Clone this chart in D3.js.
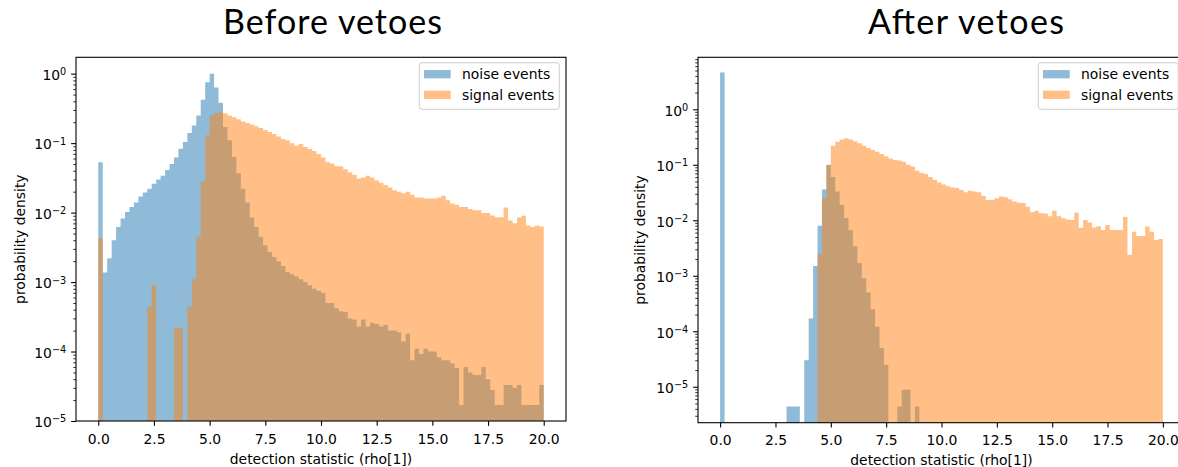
<!DOCTYPE html>
<html>
<head>
<meta charset="utf-8">
<script src="https://cdn.jsdelivr.net/npm/d3@7"></script>
<style>
  html, body { margin: 0; padding: 0; background: #ffffff; }
  svg { display: block; }
</style>
</head>
<body>
<svg id="chart" width="1178" height="467"></svg>
<script>
// ---- Histogram data: 100 bins of width 0.2 on the detection statistic (rho[1]) ----
const binEdges = d3.range(0, 101).map(i => +(i * 0.2).toFixed(1));

// Probability density per bin (0 = empty bin)
const beforeNoise = [
  0.053, 0.00137, 0.0022, 0.004, 0.0062, 0.0082, 0.0102, 0.012, 0.014, 0.017,
  0.0195, 0.022, 0.026, 0.03, 0.034, 0.041, 0.05, 0.062, 0.083, 0.104,
  0.14, 0.18, 0.25, 0.42, 0.75, 1.0, 0.63, 0.38, 0.17, 0.11,
  0.063, 0.037, 0.022, 0.014, 0.0085, 0.0062, 0.0045, 0.0034, 0.0027, 0.0023,
  0.002, 0.0017, 0.0014, 0.0013, 0.0012, 0.0011, 0.001, 0.0009, 0.0008, 0.00075,
  0.0007, 0.0005, 0.0005, 0.00042, 0.00038, 0.00037, 0.0003, 0.00029, 0.00023, 0.00029,
  0.00023, 0.00026, 0.00025, 0.00023, 0.00024, 0.0002, 0.0002, 0.00019, 0.00014, 0.00018,
  0.000075, 0.00011, 0.000092, 0.00011, 0.0001, 0.0001, 0.000083, 0.000075, 0.000075, 0.000067,
  0.000058, 0.000017, 0.00006, 0.00005, 0.000046, 0.000046, 0.00006, 0.00004, 0.000028, 0.000017,
  0.000017, 0.000033, 0.000033, 0.00003, 0.000033, 0.000017, 0.000017, 0.000017, 0.000017, 0.000033
];
const beforeSignal = [
  0.0043, 0, 0, 0, 0, 0, 0, 0, 0, 0,
  0, 0.00044, 0.0009, 0, 0, 0, 0, 0.00022, 0.00022, 0,
  0.00044, 0.0011, 0.0045, 0.028, 0.13, 0.25, 0.27, 0.285, 0.27, 0.25,
  0.235, 0.22, 0.205, 0.195, 0.185, 0.175, 0.165, 0.155, 0.145, 0.135,
  0.125, 0.115, 0.11, 0.1, 0.092, 0.097, 0.088, 0.082, 0.077, 0.07,
  0.062, 0.053, 0.051, 0.047, 0.046, 0.042, 0.038, 0.035, 0.031, 0.032,
  0.034, 0.032, 0.029, 0.027, 0.025, 0.023, 0.021, 0.02, 0.019, 0.02,
  0.018, 0.0165, 0.0165, 0.016, 0.016, 0.016, 0.0165, 0.0175, 0.015, 0.0135,
  0.013, 0.012, 0.012, 0.0113, 0.0108, 0.0108, 0.0099, 0.0099, 0.0091, 0.0086,
  0.0086, 0.0118, 0.0077, 0.007, 0.0085, 0.009, 0.0065, 0.0062, 0.0065, 0.0063
];
const afterNoise = [
  4.6, 0, 0, 0, 0, 0, 0, 0, 0, 0,
  0, 0, 0, 0, 0, 0.0000044, 0.0000044, 0.0000044, 0, 0.00003,
  0.00017, 0.0015, 0.008, 0.036, 0.1, 0.06, 0.033, 0.019, 0.011, 0.0066,
  0.0034, 0.0017, 0.0009, 0.0005, 0.00025, 0.00012, 0.00005, 0.000025, 0, 0,
  0.0000044, 0.0000088, 0.0000088, 0, 0.0000044, 0, 0, 0, 0, 0,
  0, 0, 0, 0, 0, 0, 0, 0, 0, 0,
  0, 0, 0, 0, 0, 0, 0, 0, 0, 0,
  0, 0, 0, 0, 0, 0, 0, 0, 0, 0,
  0, 0, 0, 0, 0, 0, 0, 0, 0, 0,
  0, 0, 0, 0, 0, 0, 0, 0, 0, 0
];
const afterSignal = [
  0, 0, 0, 0, 0, 0, 0, 0, 0, 0,
  0, 0, 0, 0, 0, 0, 0, 0, 0, 0,
  0, 0, 0.0025, 0.025, 0.098, 0.22, 0.26, 0.287, 0.3, 0.285,
  0.265, 0.245, 0.22, 0.2, 0.185, 0.172, 0.157, 0.142, 0.13, 0.122,
  0.12, 0.114, 0.1, 0.093, 0.078, 0.072, 0.068, 0.06, 0.054, 0.048,
  0.044, 0.041, 0.039, 0.038, 0.035, 0.032, 0.034, 0.033, 0.032, 0.0274,
  0.0232, 0.0235, 0.025, 0.0267, 0.026, 0.0239, 0.0217, 0.0208, 0.0205, 0.0176,
  0.014, 0.0149, 0.0134, 0.0132, 0.0118, 0.0149, 0.0118, 0.0109, 0.0103, 0.0101,
  0.0137, 0.0073, 0.0101, 0.0091, 0.0074, 0.0078, 0.0067, 0.0082, 0.0067, 0.0067,
  0.0067, 0.0115, 0.0024, 0.0062, 0.0052, 0.0052, 0.0077, 0.0062, 0.0044, 0.0046
];

const seriesNames = ["noise events", "signal events"];
const seriesColors = ["#1f77b4", "#ff7f0e"];
const panelTitles = ["Before vetoes", "After vetoes"];
const xTicks = [0, 2.5, 5, 7.5, 10, 12.5, 15, 17.5, 20];
const xLabel = "detection statistic (rho[1])";
const yLabel = "probability density";

// ---- Layout ----
const FONT = '"DejaVu Sans", "Liberation Sans", sans-serif';
const FS = 13.9;          // 10 pt at 100 dpi
const TICK = 4.86;        // 3.5 pt
const MINOR = 2.78;       // 2 pt
const LW = 1.1;           // 0.8 pt

const panels = [
  { title: panelTitles[0], titleWidth: 219, series: [beforeNoise, beforeSignal],
    yDomain: [1e-5, 1.72], left: 76, right: 566, top: 57.3, bottom: 421,
    titleX: 332.5, yLabelX: 25, xLabelY: 463.5 },
  { title: panelTitles[1], titleWidth: 196, series: [afterNoise, afterSignal],
    yDomain: [2.25e-6, 8.65], left: 698, right: 1185, top: 57.3, bottom: 422.7,
    titleX: 966, yLabelX: 645, xLabelY: 465 }
];

const svg = d3.select("#chart");

// Step-outline path of one histogram, split into runs of non-empty bins
function histPath(values, x, y, base) {
  const p = d3.path();
  let i = 0;
  while (i < values.length) {
    if (!(values[i] > 0)) { i++; continue; }
    const start = i;
    p.moveTo(x(binEdges[start]), base);
    while (i < values.length && values[i] > 0) {
      p.lineTo(x(binEdges[i]), y(values[i]));
      p.lineTo(x(binEdges[i + 1]), y(values[i]));
      i++;
    }
    p.lineTo(x(binEdges[i]), base);
    p.closePath();
  }
  return p.toString();
}

function supExp(v) {
  const e = Math.round(Math.log10(v));
  return (e < 0 ? "\u2212" : "") + Math.abs(e);
}

panels.forEach((pn, k) => {
  const x = d3.scaleLinear().domain([-1, 21]).range([pn.left, pn.right]);
  const y = d3.scaleLog().domain(pn.yDomain).range([pn.bottom, pn.top]);
  const g = svg.append("g");

  // title
  svg.append("text")
    .attr("x", pn.titleX).attr("y", 33.6)
    .attr("text-anchor", "middle")
    .attr("font-family", 'Lato, "Open Sans", sans-serif')
    .attr("font-size", 34)
    .attr("textLength", pn.titleWidth)
    .attr("lengthAdjust", "spacing")
    .attr("fill", "#000")
    .text(pn.title);

  // clip to the axes box
  const clipId = "clip" + k;
  svg.append("clipPath").attr("id", clipId)
    .append("rect")
    .attr("x", pn.left).attr("y", pn.top)
    .attr("width", pn.right - pn.left).attr("height", pn.bottom - pn.top);

  const bars = g.append("g").attr("clip-path", `url(#${clipId})`);
  pn.series.forEach((vals, s) => {
    bars.append("path")
      .attr("d", histPath(vals, x, y, pn.bottom + 2))
      .attr("fill", seriesColors[s])
      .attr("fill-opacity", 0.5);
  });

  // x axis
  const xa = g.append("g")
    .attr("transform", `translate(0,${pn.bottom})`)
    .call(d3.axisBottom(x).tickValues(xTicks)
      .tickSize(TICK).tickPadding(7.9).tickSizeOuter(0)
      .tickFormat(d3.format(".1f")));
  xa.select(".domain").remove();
  xa.selectAll("line").attr("stroke", "#000").attr("stroke-width", LW);
  xa.selectAll("text").attr("font-family", FONT).attr("font-size", FS).attr("fill", "#000");

  // y axis: minor ticks
  const [lo, hi] = pn.yDomain;
  const minors = [];
  for (let e = Math.floor(Math.log10(lo)); e <= Math.ceil(Math.log10(hi)); e++) {
    for (let m = 2; m <= 9; m++) {
      const v = m * Math.pow(10, e);
      if (v >= lo && v <= hi) minors.push(v);
    }
  }
  const majors = [];
  for (let e = Math.ceil(Math.log10(lo)); e <= Math.floor(Math.log10(hi)); e++) majors.push(Math.pow(10, e));

  const ym = g.append("g").attr("transform", `translate(${pn.left},0)`)
    .call(d3.axisLeft(y).tickValues(minors).tickSize(MINOR).tickFormat(""));
  ym.select(".domain").remove();
  ym.selectAll("line").attr("stroke", "#000").attr("stroke-width", 0.8);

  const ya = g.append("g").attr("transform", `translate(${pn.left},0)`)
    .call(d3.axisLeft(y).tickValues(majors).tickSize(TICK).tickPadding(4.9).tickFormat(""));
  ya.select(".domain").remove();
  ya.selectAll("line").attr("stroke", "#000").attr("stroke-width", LW);
  ya.selectAll(".tick text")
    .attr("font-family", FONT).attr("font-size", FS).attr("fill", "#000")
    .attr("dy", "0.42em")
    .each(function (d) {
      const t = d3.select(this);
      t.append("tspan").text("10");
      t.append("tspan").attr("dy", "-0.5em").attr("font-size", "0.7em").text(supExp(d));
    });

  // spines
  g.append("rect")
    .attr("x", pn.left).attr("y", pn.top)
    .attr("width", pn.right - pn.left).attr("height", pn.bottom - pn.top)
    .attr("fill", "none").attr("stroke", "#000").attr("stroke-width", LW);

  // axis labels
  g.append("text")
    .attr("x", (pn.left + pn.right) / 2).attr("y", pn.xLabelY)
    .attr("text-anchor", "middle")
    .attr("font-family", FONT).attr("font-size", FS).attr("fill", "#000")
    .text(xLabel);
  g.append("text")
    .attr("transform", `translate(${pn.yLabelX},${(pn.top + pn.bottom) / 2}) rotate(-90)`)
    .attr("text-anchor", "middle")
    .attr("font-family", FONT).attr("font-size", FS).attr("fill", "#000")
    .text(yLabel);

  // legend, upper right
  const lw = 140, lh = 46.6;
  const lg = g.append("g")
    .attr("transform", `translate(${pn.right - 6.7 - lw},${pn.top + 5.4})`);
  lg.append("rect")
    .attr("width", lw).attr("height", lh).attr("rx", 2.8)
    .attr("fill", "#fff").attr("fill-opacity", 0.8)
    .attr("stroke", "#cccccc").attr("stroke-width", 1);
  seriesNames.forEach((name, s) => {
    const cy = 11.5 + s * 20.6;
    lg.append("rect")
      .attr("x", 4.7).attr("y", cy - 4.15)
      .attr("width", 26.7).attr("height", 8.3)
      .attr("fill", seriesColors[s]).attr("fill-opacity", 0.5);
    lg.append("text")
      .attr("x", 42.7).attr("y", cy + 5)
      .attr("font-family", FONT).attr("font-size", FS).attr("fill", "#000")
      .text(name);
  });
});
</script>
</body>
</html>
